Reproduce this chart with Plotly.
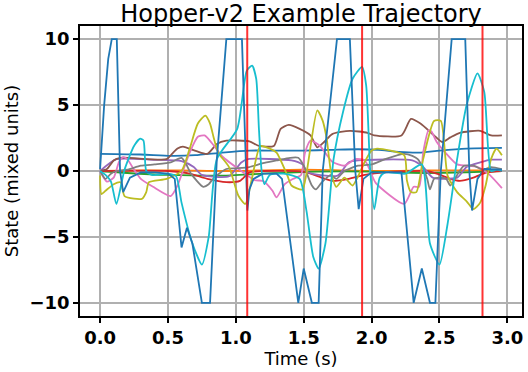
import plotly.graph_objects as go

# tab10 colours, in matplotlib's default cycle order
colors = ["#1f77b4", "#ff7f0e", "#2ca02c", "#d62728", "#9467bd", "#8c564b",
          "#e377c2", "#7f7f7f", "#bcbd22", "#17becf", "#1f77b4"]

# state 0: torso height
t_s0 = [0, 0.3, 0.52, 0.7, 0.9, 1.1, 1.3, 1.5, 1.7, 1.9, 2.05, 2.2, 2.35, 2.5, 2.7, 2.96]
v_s0 = [1.3, 1.25, 1.15, 1.2, 1.4, 1.55, 1.55, 1.55, 1.6, 1.65, 1.6, 1.45, 1.4, 1.55, 1.7, 1.75]

# state 1: torso angle
t_s1 = [0, 0.3, 0.6, 0.9, 1.2, 1.5, 1.8, 2.1, 2.4, 2.7, 2.96]
v_s1 = [0.0, 0.05, 0.05, 0.0, 0.05, 0.1, 0.05, 0.0, 0.05, 0.05, 0.05]

# state 2: thigh angle
t_s2 = [0, 0.2, 0.5, 0.9, 1.2, 1.6, 2.0, 2.4, 2.7, 2.96]
v_s2 = [0.0, -0.15, -0.3, -0.35, -0.2, -0.05, -0.05, -0.15, -0.1, 0.0]

# state 3: leg angle
t_s3 = [0, 0.5, 0.66, 0.79, 0.93, 1.03, 1.1, 1.2, 1.5, 1.63, 1.71, 1.83, 1.95, 2.1,
        2.4, 2.48, 2.58, 2.65, 2.75, 2.85, 2.96]
v_s3 = [0, 0, -0.2, -0.6, -0.85, -0.75, -0.1, 0.0, -0.05, -0.5, -0.75, -0.6, -0.3, -0.1,
        0.0, -0.2, -0.6, -0.75, -0.5, -0.1, 0.0]

# state 4: foot angle
t_s4 = [0, 0.12, 0.4, 0.6, 0.69, 0.75, 0.95, 1.04, 1.09, 1.41, 1.49, 1.53, 1.75, 1.83,
        1.9, 2.3, 2.38, 2.45, 2.63, 2.7, 2.8, 2.88, 2.96]
v_s4 = [0, 0.9, 0.85, 0.75, 0.3, -0.3, -0.4, 0.65, 0.9, 0.8, 0.5, -0.1, -0.35, 0.65,
        0.8, 0.8, 0.3, -0.5, -0.5, 0.3, 0.65, 0.86, 0.86]

# state 5: x velocity
t_s5 = [0, 0.05, 0.1, 0.15, 0.49, 0.53, 0.57, 0.61, 0.71, 0.79, 0.86, 0.93, 1.1, 1.17,
        1.28, 1.33, 1.39, 1.47, 1.55, 1.6, 1.65, 1.71, 1.84, 1.97, 2.02, 2.22, 2.29,
        2.36, 2.46, 2.52, 2.58, 2.65, 2.8, 2.88, 2.96]
v_s5 = [0, 0.15, 0.8, 1.0, 0.9, 1.3, 1.7, 1.85, 1.5, 1.3, 2.05, 2.3, 2.25, 1.9,
        1.9, 3.2, 3.5, 3.2, 2.7, 1.8, 2.2, 2.8, 3.05, 2.9, 2.7, 2.7, 3.95,
        3.6, 2.7, 2.2, 2.55, 2.9, 3.05, 2.7, 2.7]

# state 6: z velocity
t_s6 = [0, 0.05, 0.1, 0.14, 0.17, 0.2, 0.25, 0.3, 0.39, 0.52, 0.57, 0.61, 0.66, 0.72,
        0.77, 0.84, 0.9, 1.04, 1.14, 1.2, 1.27, 1.3, 1.36, 1.42, 1.48, 1.51, 1.55, 1.62,
        1.71, 1.8, 1.88, 1.95, 1.99, 2.03, 2.24, 2.31, 2.35, 2.38, 2.42, 2.44, 2.48,
        2.56, 2.63, 2.78, 2.86, 2.96]
v_s6 = [0, -0.8, -0.5, 0.7, 1.05, 0.9, 0.1, -0.6, -1.2, -1.9, -1.1, 0, 1.4, 2.6,
        2.7, 1.9, 1.1, 0, -0.7, -0.75, -1.5, -2.0, -1.0, -0.6, -0.3, 1.4, 2.3, 1.9,
        0.7, 0.4, 0.9, 0.8, 0.0, -0.9, -2.5, -1.2, -1.2, 1.4, 3.1, 3.0, 2.2,
        1.2, 0.5, 0.3, -0.2, -1.3]

# state 7: torso angular velocity
t_s7 = [0, 0.04, 0.08, 0.12, 0.2, 0.3, 0.4, 0.52, 0.57, 0.6, 0.63, 0.67, 0.76, 0.8,
        0.84, 0.93, 1.0, 1.1, 1.2, 1.3, 1.4, 1.46, 1.5, 1.56, 1.59, 1.63, 1.66, 1.7,
        1.74, 1.8, 1.9, 2.0, 2.1, 2.24, 2.3, 2.34, 2.38, 2.41, 2.43, 2.46, 2.5, 2.55,
        2.58, 2.63, 2.68, 2.75, 2.82, 2.88, 2.96]
v_s7 = [0, -0.6, -0.2, 0.0, 0.1, 0.4, 0.5, 0.65, 0.9, 1.0, 0.6, -0.2, -1.2, -1.0,
        -0.5, 0.15, 0.2, 0.3, 0.6, 0.8, 1.0, 1.0, 0.4, -1.1, -1.4, -0.9, -0.6, -0.3,
        -0.6, 0.0, 0.4, 0.5, 0.9, 1.3, 1.15, 0.9, 0.2, -0.6, -1.4, -0.6, -0.5, -0.6,
        -1.1, -0.3, 0.4, 0.4, 0.1, 0.3, 0.15]

# state 8: thigh angular velocity
t_s8 = [0, 0.01, 0.04, 0.1, 0.15, 0.18, 0.25, 0.31, 0.34, 0.36, 0.49, 0.6, 0.66, 0.72,
        0.775, 0.81, 0.84, 0.87, 0.95, 1.02, 1.07, 1.12, 1.18, 1.25, 1.3, 1.38, 1.41,
        1.49, 1.52, 1.6, 1.64, 1.67, 1.7, 1.74, 1.8, 1.86, 1.95, 2.0, 2.04, 2.24, 2.26,
        2.29, 2.33, 2.38, 2.46, 2.51, 2.56, 2.63, 2.7, 2.75, 2.8, 2.84, 2.88, 2.92, 2.96]
v_s8 = [-0.35, -1.75, -1.5, -1.0, -0.85, -1.9, -2.1, -2.1, -1.6, -0.85, -0.6, 0.0, 1.7, 3.6,
        4.2, 3.6, 2.4, 1.4, 0.3, -1.9, -2.5, -0.5, 1.9, 1.7, 1.4, -0.35, -1.1,
        -1.4, -0.2, 4.6, 3.8, 2.4, 0.0, -1.2, -0.5, -1.1, 0.7, 1.55, 1.7, 1.2, -0.7,
        -1.6, -1.6, 0.9, 3.8, 3.8, -0.35, -1.6, -2.3, -2.9, -2.4, -1.1, 0.9, 1.7, 1.2]

# state 9: leg angular velocity
t_s9 = [0, 0.04, 0.08, 0.12, 0.18, 0.25, 0.295, 0.32, 0.34, 0.38, 0.5, 0.56, 0.6, 0.68,
        0.75, 0.8, 0.86, 1.01, 1.08, 1.12, 1.15, 1.17, 1.19, 1.21, 1.25, 1.35, 1.47,
        1.52, 1.57, 1.61, 1.66, 1.72, 1.79, 1.86, 1.93, 1.96, 1.99, 2.02, 2.06, 2.1,
        2.25, 2.37, 2.43, 2.5, 2.56, 2.63, 2.7, 2.78, 2.83, 2.88, 2.92, 2.96]
v_s9 = [0, -0.3, -0.8, -2.5, 0.1, 1.9, 2.45, 2.3, 0.0, -0.3, -0.2, -0.4, -2.4, -5.5,
        -7.1, -5.0, 0.9, 3.2, 7.6, 8.0, 7.0, 3.2, 0.0, -1.0, -0.3, -0.2, -0.6,
        -3.0, -6.5, -7.4, -5.5, 0.9, 4.5, 7.0, 7.9, 6.5, 0.0, -2.9, -0.5, -0.1,
        -0.2, 0.5, -5.5, -7.1, -4.0, 0.9, 5.0, 7.4, 6.0, 0.0, 0.1, 0.0]

# state 10: foot angular velocity (clipped at +/-10)
t_s10 = [0, 0.03, 0.06, 0.086, 0.123, 0.147, 0.17, 0.22, 0.3, 0.4, 0.5, 0.55, 0.6, 0.64,
         0.68, 0.75, 0.81, 0.86, 0.93, 1.045, 1.085, 1.1, 1.13, 1.2, 1.3, 1.34, 1.46,
         1.5, 1.56, 1.61, 1.64, 1.745, 1.84, 1.88, 1.905, 1.94, 2.0, 2.1, 2.22, 2.31,
         2.37, 2.43, 2.47, 2.51, 2.59, 2.69, 2.72, 2.74, 2.78, 2.83, 2.9, 2.96]
v_s10 = [0.15, 5.0, 8.5, 10, 10, 0.0, -1.6, -0.5, -0.1, -0.1, -0.2, -0.6, -5.8, -4.3,
         -5.5, -10, -10, 0.9, 10, 10, -3.0, -1.4, -0.6, -0.2, -0.2, -0.6, -10,
         -7.4, -10, -10, 0.0, 10, 10, 0.0, -2.9, -0.6, -0.1, -0.1, -0.1, -10,
         -7.4, -10, -10, 0.0, 10, 10, 0.0, -3.0, -0.6, 0.15, 0.1, 0.1]

states_t = [t_s0, t_s1, t_s2, t_s3, t_s4, t_s5, t_s6, t_s7, t_s8, t_s9, t_s10]
states_v = [v_s0, v_s1, v_s2, v_s3, v_s4, v_s5, v_s6, v_s7, v_s8, v_s9, v_s10]

# red markers
event_times = [1.084, 1.93, 2.817]

x_ticks = [0.0, 0.5, 1.0, 1.5, 2.0, 2.5, 3.0]
y_ticks = [-10, -5, 0, 5, 10]

fig = go.Figure()
for i in range(len(states_t)):
    shape = "linear" if i == 10 else "spline"
    fig.add_trace(go.Scatter(x=states_t[i], y=states_v[i], mode="lines",
                             line=dict(color=colors[i], width=1.8, shape=shape, smoothing=0.6),
                             name="s%d" % i, showlegend=False))

for tv in event_times:
    fig.add_vline(x=tv, line_color="rgba(255,0,0,0.8)", line_width=2)

fig.update_layout(
    width=528, height=372,
    margin=dict(l=80, r=6, t=26, b=56),
    plot_bgcolor="white", paper_bgcolor="white",
    font=dict(family="DejaVu Sans", color="black"),
    title=dict(text="Hopper-v2 Example Trajectory", font=dict(size=24),
               x=0.5, xref="paper", xanchor="center",
               y=1 - 13.5 / 372, yref="container", yanchor="middle"),
)
fig.update_xaxes(
    range=[-0.148, 3.108], tickvals=x_ticks, ticktext=["%.1f" % v for v in x_ticks],
    tickfont=dict(size=18, weight="bold"), ticks="outside", ticklen=5, tickwidth=1.5,
    tickcolor="black", showgrid=True, gridcolor="#b0b0b0", gridwidth=1.5,
    showline=True, linecolor="black", linewidth=1.5, mirror=True, zeroline=False,
    automargin=False,
    title=dict(text="Time (s)", font=dict(size=18), standoff=2),
)
fig.update_yaxes(
    range=[-11, 11], tickvals=y_ticks,
    ticktext=[str(v).replace("-", "\u2212") for v in y_ticks],
    tickfont=dict(size=18, weight="bold"), ticks="outside", ticklen=5, tickwidth=1.5,
    tickcolor="black", showgrid=True, gridcolor="#b0b0b0", gridwidth=1.5,
    showline=True, linecolor="black", linewidth=1.5, mirror=True, zeroline=False,
    automargin=False,
    title=dict(text="State (mixed units)", font=dict(size=18), standoff=6),
)

# page body has a default margin; drop it so the figure sits at the window corner
fig.write_html("out.html", config={"displayModeBar": False},
               post_script="document.body.style.margin='0';")
